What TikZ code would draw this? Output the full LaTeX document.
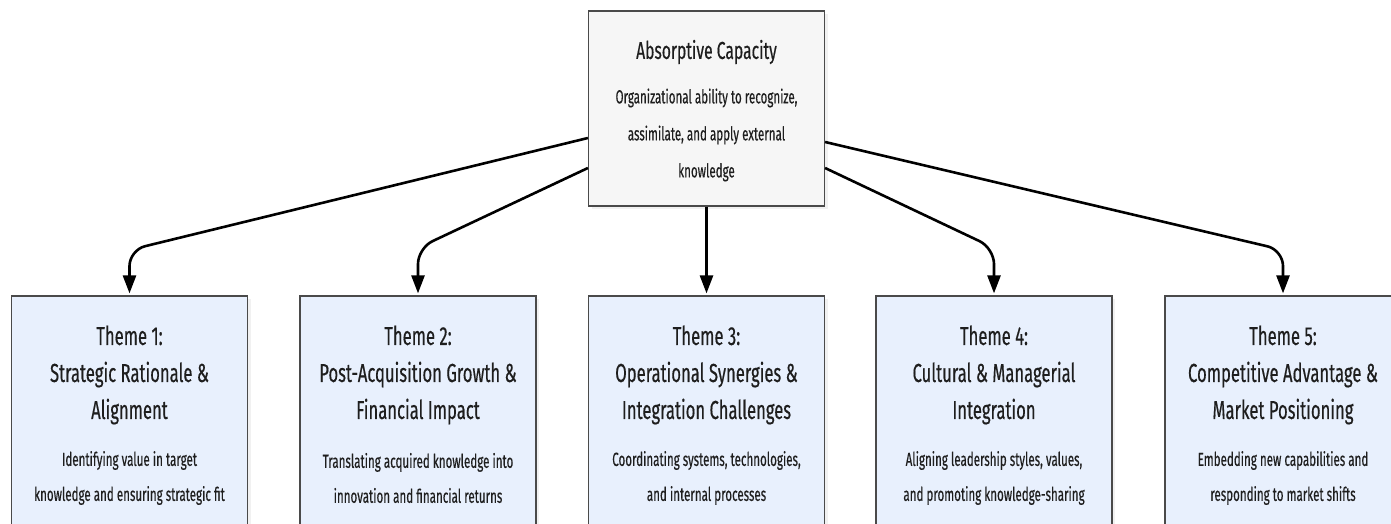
\documentclass[tikz,border=0pt]{standalone}
\usepackage{fontspec}
\setmainfont{Fira Sans}[FakeStretch=0.61, FakeBold=0.4]
\newfontfamily\headfont{Fira Sans}[FakeStretch=0.64, FakeBold=0.4]
\usetikzlibrary{arrows.meta,shadows}
\definecolor{themefill}{HTML}{E8F0FD}
\definecolor{rootfill}{HTML}{F6F6F6}
\definecolor{boxline}{HTML}{4A4A4A}
\definecolor{ink}{HTML}{1E1E1E}
\begin{document}
\begin{tikzpicture}[x=1pt,y=-1pt,
  box/.style={draw=boxline, line width=1.2pt, inner sep=0pt, minimum width=236pt,
    drop shadow={shadow xshift=3pt,shadow yshift=-3pt,fill=black!10}},
  root/.style={box, fill=rootfill, minimum height=195pt},
  theme/.style={box, fill=themefill, minimum height=240pt},
  head/.style={align=center, text=ink, font=\headfont\fontsize{26}{37}\selectfont, inner sep=0pt},
  roothead/.style={head, font=\headfont\fontsize{24.5}{37}\selectfont},
  desc/.style={align=center, text=ink, font=\fontsize{19}{37}\selectfont, inner sep=0pt},
  tdesc/.style={desc, font=\fontsize{19}{35}\selectfont},
  link/.style={line width=2.6pt, rounded corners=16pt, -{Triangle[length=18pt,width=13pt]}}
]
\useasboundingbox (0,0) rectangle (1391,524);
\fill[white] (0,0) rectangle (1391,524);

% root concept
\node[root] (root) at (706.5,108.5) {};
\node[roothead] (rootTitle) at (706.5,52) {Absorptive Capacity};
\node[desc] (rootDesc) at (706.5,135) {Organizational ability to recognize,\\assimilate, and apply external\\knowledge};

% the five themes
\node[theme] (t1) at (129.5,416) {};
\node[theme] (t2) at (418,416) {};
\node[theme] (t3) at (706.5,416) {};
\node[theme] (t4) at (994,416) {};
\node[theme] (t5) at (1283,416) {};

\node[head] (t1Title) at (129.5,375) {Theme 1:\\Strategic Rationale \&\\Alignment};
\node[tdesc] (t1Desc) at (129.5,478) {Identifying value in target\\knowledge and ensuring strategic fit};

\node[head] (t2Title) at (418,375) {Theme 2:\\Post-Acquisition Growth \&\\Financial Impact};
\node[tdesc] (t2Desc) at (418,478) {Translating acquired knowledge into\\innovation and financial returns};

\node[head] (t3Title) at (706.5,375) {Theme 3:\\Operational Synergies \&\\Integration Challenges};
\node[tdesc] (t3Desc) at (706.5,478) {Coordinating systems, technologies,\\and internal processes};

\node[head] (t4Title) at (994,375) {Theme 4:\\Cultural \& Managerial\\Integration};
\node[tdesc] (t4Desc) at (994,478) {Aligning leadership styles, values,\\and promoting knowledge-sharing};

\node[head] (t5Title) at (1283,375) {Theme 5:\\Competitive Advantage \&\\Market Positioning};
\node[tdesc] (t5Desc) at (1283,478) {Embedding new capabilities and\\responding to market shifts};

% connectors
\coordinate (l1) at (root.west |- 0,138);
\coordinate (l2) at (root.west |- 0,168);
\coordinate (r1) at (root.east |- 0,142);
\coordinate (r2) at (root.east |- 0,168);

\draw[link] (l1) -- (t1.north |- 0,250) -- ([yshift=2pt]t1.north);
\draw[link] (l2) -- (t2.north |- 0,248) -- ([yshift=2pt]t2.north);
\draw[link] (root.south) -- ([yshift=2pt]t3.north);
\draw[link] (r2) -- (t4.north |- 0,248) -- ([yshift=2pt]t4.north);
\draw[link] (r1) -- (t5.north |- 0,250) -- ([yshift=2pt]t5.north);
\end{tikzpicture}
\end{document}
